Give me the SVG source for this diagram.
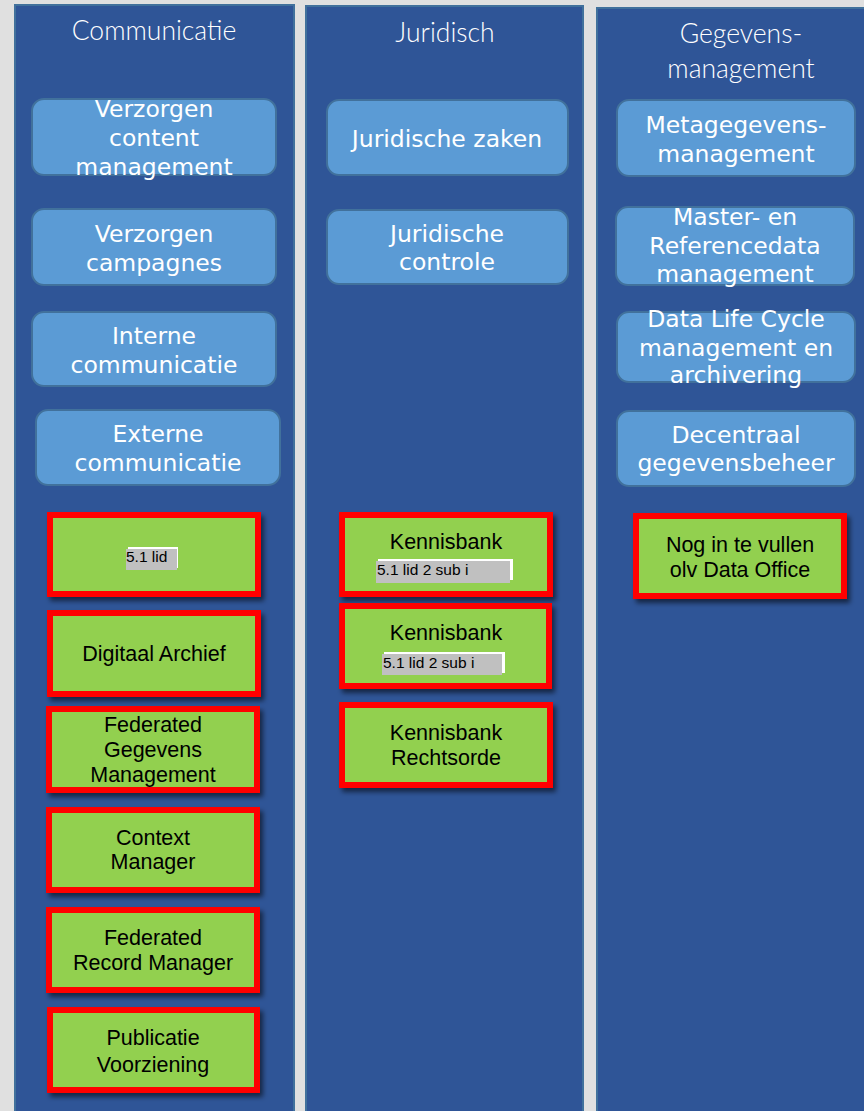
<svg xmlns="http://www.w3.org/2000/svg" width="864" height="1111" viewBox="0 0 864 1111">
<defs>
<filter id="sh" x="-10%" y="-10%" width="130%" height="140%">
<feDropShadow dx="3" dy="4" stdDeviation="2.5" flood-color="#000" flood-opacity="0.55"/>
</filter>
<style>
.col{fill:#2f5597;stroke:#41719c;stroke-width:2}
.title{font-family:Lato,"Open Sans",sans-serif;font-weight:300;font-size:26.5px;fill:#fff;text-anchor:middle}
.bb{fill:#5b9bd5;stroke:#41719c;stroke-width:2}
.bt{font-family:"DejaVu Sans",Verdana,sans-serif;font-size:23.5px;fill:#fff;text-anchor:middle}
.gb{fill:#92d050;stroke:#ff0000;stroke-width:6;filter:url(#sh)}
.gt{font-family:"Liberation Sans",Arial,sans-serif;font-size:21.5px;fill:#000;text-anchor:middle}
.lw{fill:#fff}
.lg{fill:#c0c0c0}
.lt{font-family:"Liberation Sans",Arial,sans-serif;font-size:15.5px;fill:#000}
</style>
</defs>
<rect width="864" height="1111" fill="#e0e0e0"/>

<g id="col-communicatie">
<rect class="col" x="15" y="5" width="279" height="1110"/>
<text class="title" x="154" y="40">Communicatie</text>
</g>
<g id="col-juridisch">
<rect class="col" x="306" y="6" width="277" height="1110"/>
<text class="title" x="445" y="42">Juridisch</text>
</g>
<g id="col-gegevens">
<rect class="col" x="597" y="8" width="280" height="1110"/>
<text class="title" x="741" y="43">Gegevens-</text>
<text class="title" x="741" y="78">management</text>
</g>

<g id="b-content"><rect class="bb" x="32" y="99" width="244" height="76" rx="12"/>
<text class="bt" x="154" y="117">Verzorgen</text><text class="bt" x="154" y="146">content</text><text class="bt" x="154" y="175">management</text></g>
<g id="b-campagnes"><rect class="bb" x="32" y="209" width="244" height="76" rx="12"/>
<text class="bt" x="154" y="242">Verzorgen</text><text class="bt" x="154" y="271">campagnes</text></g>
<g id="b-interne"><rect class="bb" x="32" y="312" width="244" height="74" rx="12"/>
<text class="bt" x="154" y="344">Interne</text><text class="bt" x="154" y="373">communicatie</text></g>
<g id="b-externe"><rect class="bb" x="36" y="410" width="244" height="75" rx="12"/>
<text class="bt" x="158" y="442">Externe</text><text class="bt" x="158" y="471">communicatie</text></g>

<g id="b-jurzaken"><rect class="bb" x="327" y="100" width="241" height="75" rx="12"/>
<text class="bt" x="447" y="147">Juridische zaken</text></g>
<g id="b-jurcontrole"><rect class="bb" x="327" y="210" width="241" height="74" rx="12"/>
<text class="bt" x="447" y="242">Juridische</text><text class="bt" x="447" y="270">controle</text></g>

<g id="b-meta"><rect class="bb" x="617" y="100" width="238" height="76" rx="12"/>
<text class="bt" x="736" y="133">Metagegevens-</text><text class="bt" x="736" y="162">management</text></g>
<g id="b-master"><rect class="bb" x="616" y="207" width="238" height="78" rx="12"/>
<text class="bt" x="735" y="225">Master- en</text><text class="bt" x="735" y="254">Referencedata</text><text class="bt" x="735" y="282">management</text></g>
<g id="b-dlc"><rect class="bb" x="617" y="312" width="238" height="70" rx="12"/>
<text class="bt" x="736" y="327">Data Life Cycle</text><text class="bt" x="736" y="356">management en</text><text class="bt" x="736" y="383">archivering</text></g>
<g id="b-decentraal"><rect class="bb" x="617" y="411" width="238" height="75" rx="12"/>
<text class="bt" x="736" y="443">Decentraal</text><text class="bt" x="736" y="471">gegevensbeheer</text></g>

<g id="g-lid"><rect class="gb" x="50" y="515" width="208" height="79"/>
<rect class="lw" x="128" y="547" width="50" height="21"/><rect class="lg" x="126" y="549" width="51" height="21"/>
<text class="lt" x="126" y="562">5.1 lid</text></g>
<g id="g-digitaal"><rect class="gb" x="50" y="613" width="208" height="81"/>
<text class="gt" x="154" y="661">Digitaal Archief</text></g>
<g id="g-fedgeg"><rect class="gb" x="49" y="709" width="208" height="81"/>
<text class="gt" x="153" y="732">Federated</text><text class="gt" x="153" y="757">Gegevens</text><text class="gt" x="153" y="782">Management</text></g>
<g id="g-context"><rect class="gb" x="49" y="810" width="208" height="80"/>
<text class="gt" x="153" y="845">Context</text><text class="gt" x="153" y="869">Manager</text></g>
<g id="g-fedrec"><rect class="gb" x="49" y="910" width="208" height="80"/>
<text class="gt" x="153" y="945">Federated</text><text class="gt" x="153" y="970">Record Manager</text></g>
<g id="g-publicatie"><rect class="gb" x="50" y="1010" width="207" height="80"/>
<text class="gt" x="153" y="1045">Publicatie</text><text class="gt" x="153" y="1072">Voorziening</text></g>

<g id="g-kb1"><rect class="gb" x="342" y="515" width="208" height="79"/>
<text class="gt" x="446" y="549">Kennisbank</text>
<rect class="lw" x="378" y="559" width="135" height="21"/><rect class="lg" x="376" y="561" width="134" height="22"/>
<text class="lt" x="377" y="575">5.1 lid 2 sub i</text></g>
<g id="g-kb2"><rect class="gb" x="342" y="606" width="207" height="80"/>
<text class="gt" x="446" y="640">Kennisbank</text>
<rect class="lw" x="384" y="652" width="121" height="21"/><rect class="lg" x="382" y="654" width="120" height="21"/>
<text class="lt" x="383" y="668">5.1 lid 2 sub i</text></g>
<g id="g-kb3"><rect class="gb" x="342" y="705" width="208" height="80"/>
<text class="gt" x="446" y="740">Kennisbank</text><text class="gt" x="446" y="765">Rechtsorde</text></g>

<g id="g-nog"><rect class="gb" x="636" y="516" width="208" height="80"/>
<text class="gt" x="740" y="552">Nog in te vullen</text><text class="gt" x="740" y="577">olv Data Office</text></g>

<g id="connectors"></g>
</svg>
